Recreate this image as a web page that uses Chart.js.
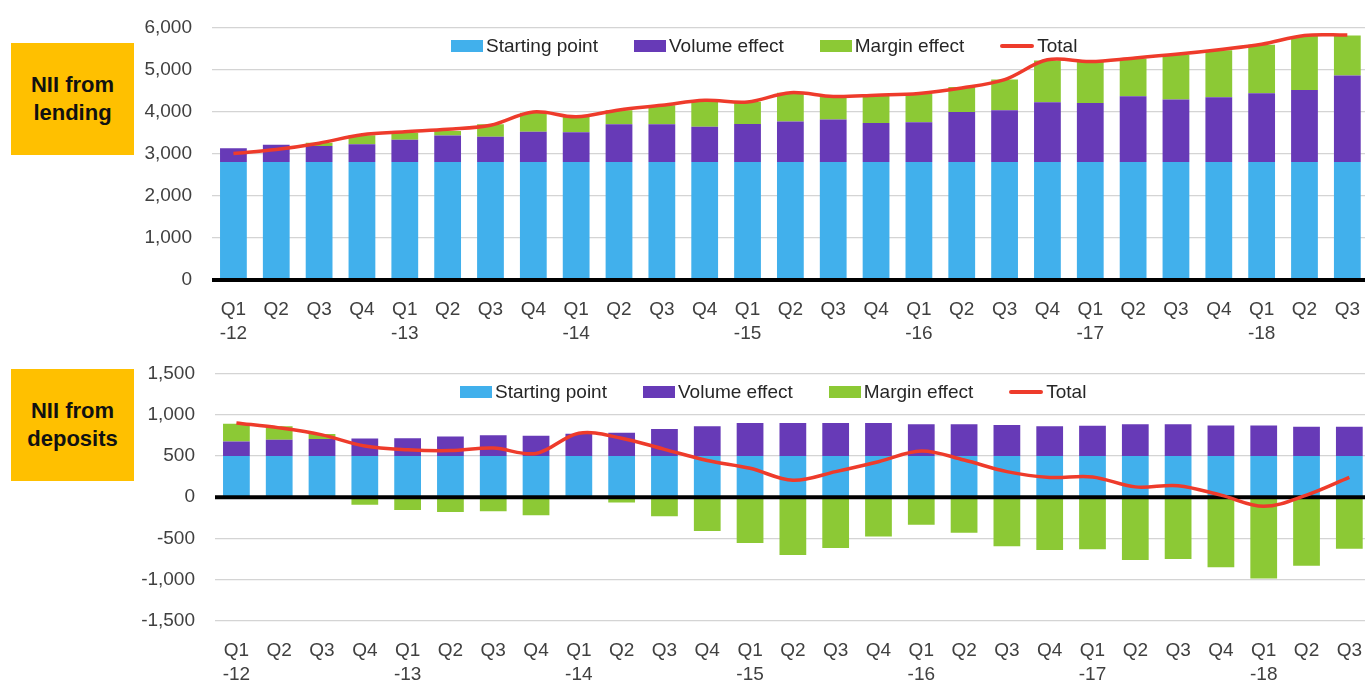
<!DOCTYPE html>
<html>
<head>
<meta charset="utf-8">
<script src="https://cdn.jsdelivr.net/npm/chart.js@4/dist/chart.umd.min.js"></script>
<style>
  body { margin: 0; width: 1365px; height: 680px; overflow: hidden; background: #fff;
         font-family: "Liberation Sans", Arial, sans-serif; position: relative; }
  .panel { position: absolute; left: 0; }
  .tag { position: absolute; left: 11px; width: 123px; height: 112px; background: #FFC000;
         display: flex; align-items: center; justify-content: center; text-align: center;
         font-weight: bold; font-size: 22px; line-height: 28px; color: #111; }
  .legend { position: absolute; display: flex; align-items: center; gap: 36px;
            font-size: 19px; color: #262626; white-space: nowrap; }
  .item { display: flex; align-items: center; gap: 3px; }
  .box { width: 32px; height: 12px; }
  .ln { width: 34px; height: 4px; border-radius: 2px; }
</style>
</head>
<body>

<div class="panel" style="top:-4px;width:1378px;height:349px"><canvas id="lending"></canvas></div>
<div class="panel" style="top:342px;width:1380px;height:338px"><canvas id="deposits"></canvas></div>

<div class="tag" style="top:43px">NII from<br>lending</div>
<div class="tag" style="top:369px">NII from<br>deposits</div>

<div class="legend" id="legendTop" style="left:451px;top:35px"></div>
<div class="legend" id="legendBottom" style="left:460px;top:381px"></div>

<script>
// categories
const quarters = ['Q1','Q2','Q3','Q4','Q1','Q2','Q3','Q4','Q1','Q2','Q3','Q4','Q1','Q2','Q3','Q4',
                  'Q1','Q2','Q3','Q4','Q1','Q2','Q3','Q4','Q1','Q2','Q3'];
const yearTicks = ['-12','','','','-13','','','','-14','','','','-15','','','','-16','','','',
                   '-17','','','','-18','',''];

const seriesNames = ['Starting point', 'Volume effect', 'Margin effect', 'Total'];
const seriesColors = ['#41B0EC', '#673AB7', '#8CC935', '#EE3B2B'];

// NII from lending
const lendStart  = [2800,2800,2800,2800,2800,2800,2800,2800,2800,2800,2800,2800,2800,2800,
                    2800,2800,2800,2800,2800,2800,2800,2800,2800,2800,2800,2800,2800];
const lendVolume = [330,410,380,425,530,630,600,720,710,900,900,840,905,965,1010,930,950,
                    1190,1230,1420,1405,1565,1485,1540,1635,1715,2060];
const lendMargin = [0,0,80,215,165,110,300,450,365,330,450,635,530,680,555,665,680,
                    595,735,995,975,895,1065,1115,1155,1280,950];
const lendTotal  = [3005,3100,3250,3450,3520,3580,3675,3990,3875,4040,4150,4270,4230,4450,
                    4360,4390,4430,4560,4760,5230,5190,5270,5360,5470,5600,5810,5820];

// NII from deposits
const depStart  = [500,500,500,500,500,500,500,500,500,500,500,500,500,500,
                   500,500,500,500,500,500,500,500,500,500,500,500,500];
const depVolume = [175,195,205,210,215,235,250,245,270,280,325,360,400,400,400,400,385,
                   385,375,360,365,385,385,370,370,355,355];
const depMargin = [215,165,60,-90,-155,-180,-170,-220,0,-65,-230,-410,-555,-700,-615,-475,
                   -335,-430,-595,-640,-630,-760,-750,-850,-985,-830,-625];
const depTotal  = [900,840,755,620,575,565,595,530,775,715,580,445,350,205,310,430,560,
                   450,310,240,245,125,140,25,-110,25,240];

Chart.defaults.font.family = '"Liberation Sans", Arial, sans-serif';
Chart.defaults.font.size = 19;
Chart.defaults.color = '#404040';

const labels = quarters.map((q, i) => yearTicks[i] ? [q, yearTicks[i]] : q);

// black zero line, drawn over the bars but under the Total line
const zeroLine = {
  id: 'zeroLine',
  beforeDatasetDraw(chart, args) {
    if (chart.data.datasets[args.index].type !== 'line') return;
    const y = chart.scales.y.getPixelForValue(0);
    const ctx = chart.ctx;
    ctx.save();
    ctx.strokeStyle = '#000';
    ctx.lineWidth = 4;
    ctx.beginPath();
    ctx.moveTo(chart.chartArea.left, y);
    ctx.lineTo(chart.chartArea.right, y);
    ctx.stroke();
    ctx.restore();
  }
};

function buildLegend(id) {
  const el = document.getElementById(id);
  seriesNames.forEach((name, i) => {
    const item = document.createElement('div');
    item.className = 'item';
    const mark = document.createElement('span');
    mark.className = i === 3 ? 'ln' : 'box';
    mark.style.background = seriesColors[i];
    const txt = document.createElement('span');
    txt.textContent = name;
    item.appendChild(mark);
    item.appendChild(txt);
    el.appendChild(item);
  });
}

function makeChart(id, start, volume, margin, total, yMin, yMax, yStep, yWidth, xHeight, padTop) {
  const values = [start, volume, margin];
  const datasets = values.map((d, i) => ({
    type: 'bar',
    label: seriesNames[i],
    data: d,
    backgroundColor: seriesColors[i],
    stack: 'bars',
    order: 1,
    barPercentage: 0.625,
    categoryPercentage: 1
  }));
  datasets.push({
    type: 'line',
    label: seriesNames[3],
    data: total,
    borderColor: seriesColors[3],
    borderWidth: 3.5,
    pointRadius: 0,
    tension: 0.35,
    stack: 'total',
    order: 0
  });

  return new Chart(document.getElementById(id), {
    data: { labels: labels, datasets: datasets },
    options: {
      responsive: true,
      maintainAspectRatio: false,
      animation: false,
      layout: { padding: { top: padTop, left: 0, right: 0, bottom: 0 } },
      plugins: { legend: { display: false }, tooltip: { enabled: false } },
      scales: {
        x: {
          stacked: true,
          grid: { display: false, drawTicks: false },
          border: { display: false },
          ticks: { padding: 18, maxRotation: 0, autoSkip: false, font: { lineHeight: 1.27 } },
          afterFit: s => { s.height = xHeight; }
        },
        y: {
          stacked: true,
          min: yMin,
          max: yMax,
          border: { display: false },
          grid: { color: '#d4d4d4', lineWidth: 1.3, drawTicks: false },
          ticks: {
            stepSize: yStep,
            padding: 20,
            callback: v => v.toLocaleString('en-US')
          },
          afterFit: s => { s.width = yWidth; }
        }
      }
    },
    plugins: [zeroLine]
  });
}

makeChart('lending', lendStart, lendVolume, lendMargin, lendTotal, 0, 6000, 1000, 212, 65, 23);
makeChart('deposits', depStart, depVolume, depMargin, depTotal, -1500, 1500, 500, 215, 59, 25);

buildLegend('legendTop');
buildLegend('legendBottom');
</script>
</body>
</html>
